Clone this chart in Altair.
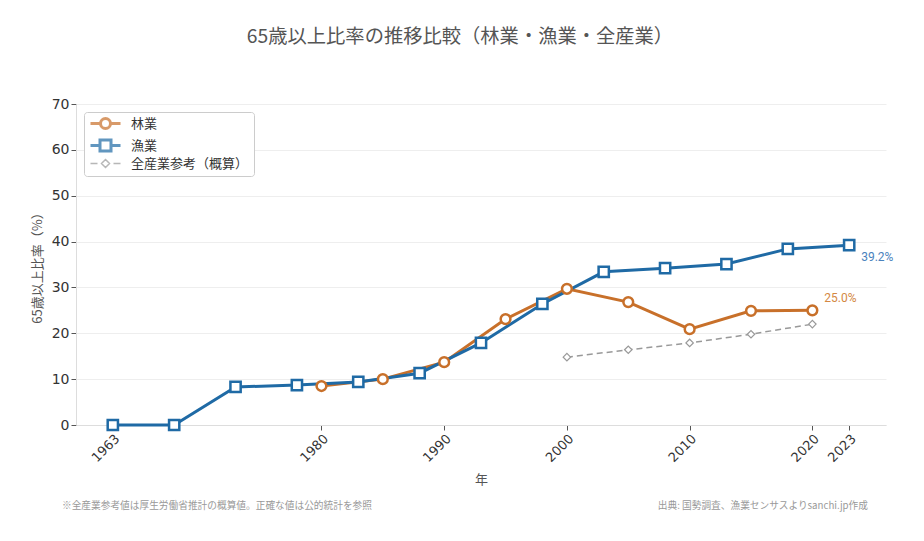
import altair as alt
import pandas as pd

# ---- data ----
series_names = ["林業", "漁業", "全産業参考（概算）"]
series_colors = ["#c8702a", "#1f6aa5", "#999999"]

forest_years = [1980, 1985, 1990, 1995, 2000, 2005, 2010, 2015, 2020]
forest_vals = [8.5, 10.0, 13.7, 23.1, 29.7, 26.8, 20.9, 24.9, 25.0]

fish_years = [1963, 1968, 1973, 1978, 1983, 1988, 1993, 1998, 2003, 2008, 2013, 2018, 2023]
fish_vals = [0.0, 0.0, 8.3, 8.7, 9.4, 11.3, 17.9, 26.4, 33.4, 34.2, 35.1, 38.4, 39.2]

all_years = [2000, 2005, 2010, 2015, 2020]
all_vals = [14.8, 16.4, 17.9, 19.8, 22.0]

x_ticks = [1963, 1980, 1990, 2000, 2010, 2020, 2023]

rows = []
for y, v in zip(forest_years, forest_vals):
    rows.append({"year": y, "value": v, "series": series_names[0]})
for y, v in zip(fish_years, fish_vals):
    rows.append({"year": y, "value": v, "series": series_names[1]})
for y, v in zip(all_years, all_vals):
    rows.append({"year": y, "value": v, "series": series_names[2]})
df = pd.DataFrame(rows)

labels_df = pd.DataFrame([
    {"year": fish_years[-1], "value": fish_vals[-1], "series": series_names[1], "label": f"{fish_vals[-1]:.1f}%"},
    {"year": forest_years[-1], "value": forest_vals[-1], "series": series_names[0], "label": f"{forest_vals[-1]:.1f}%"},
])

FONT = "Noto Sans CJK JP"
TICKFONT = "DejaVu Sans"

x_enc = alt.X("year:Q", scale=alt.Scale(domain=[1960, 2026], nice=False, zero=False),
              axis=alt.Axis(values=x_ticks, format="d", labelAngle=-45, labelAlign="right",
                            labelBaseline="top", title="年", grid=False, titleFontSize=13,
                            titleColor="#555", titleFontWeight="normal", titlePadding=9,
                            labelFontSize=13, labelColor="#333", labelFont=TICKFONT))
y_enc = alt.Y("value:Q", scale=alt.Scale(domain=[0, 70], nice=False),
              axis=alt.Axis(values=[0, 10, 20, 30, 40, 50, 60, 70], title="65歳以上比率（%）",
                            titleFontSize=13, titleColor="#555", titleFontWeight="normal",
                            labelFontSize=14, labelColor="#333", labelFont=TICKFONT,
                            titlePadding=7))

color_scale = alt.Scale(domain=series_names, range=series_colors)
width_scale = alt.Scale(type="ordinal", domain=series_names, range=[3, 3, 1.5])


def sub(i):
    return alt.Chart(df).transform_filter(alt.datum.series == series_names[i])


line_forest = sub(0).mark_line(color=series_colors[0], strokeWidth=3).encode(
    x=x_enc, y=y_enc, order="year:Q")
line_fish = sub(1).mark_line(color=series_colors[1], strokeWidth=3).encode(
    x="year:Q", y="value:Q", order="year:Q")
line_all = sub(2).mark_line(color=series_colors[2], strokeWidth=1.5, strokeDash=[6, 4]).encode(
    x="year:Q", y="value:Q", order="year:Q")

pts_forest = sub(0).mark_point(
    shape="circle", filled=True, fill="white", stroke=series_colors[0], strokeWidth=2.5,
    size=95, opacity=1).encode(x="year:Q", y="value:Q")
pts_fish = sub(1).mark_point(
    shape="square", filled=True, fill="white", stroke=series_colors[1], strokeWidth=2.5,
    size=105, opacity=1).encode(x="year:Q", y="value:Q")
pts_all = sub(2).mark_point(
    shape="diamond", filled=True, fill="white", stroke=series_colors[2], strokeWidth=1.2,
    size=55, opacity=1).encode(x="year:Q", y="value:Q")

# legend-only layer (no rows drawn) with line+marker symbols
legend_paths = [
    "M-1,0H1 M3,0H5 M3,0A1,1,0,1,1,1,0A1,1,0,1,1,3,0Z",
    "M-1,0H0.9 M3.1,0H5 M0.9,-1.1H3.1V1.1H0.9Z",
    "M-1,0H0.4 M3.6,0H5 M2,-0.8L2.8,0L2,0.8L1.2,0Z",
]
legend_layer = alt.Chart(df).transform_filter(alt.datum.year < 0).mark_point(filled=False).encode(
    x="year:Q", y="value:Q",
    color=alt.Color("series:N", scale=color_scale, sort=series_names,
                    legend=alt.Legend(title=None, orient="top-left", offset=8,
                                      symbolSize=100, labelOffset=29, padding=5,
                                      rowPadding=-1, labelFontSize=13, labelColor="#333",
                                      labelFont=FONT, strokeColor="#cccccc",
                                      fillColor="white", cornerRadius=3)),
    shape=alt.Shape("series:N", sort=series_names,
                    scale=alt.Scale(domain=series_names, range=legend_paths)),
    strokeWidth=alt.StrokeWidth("series:N", sort=series_names, scale=width_scale),
)

lbl_fish = alt.Chart(labels_df).transform_filter(alt.datum.series == series_names[1]).mark_text(
    align="left", baseline="middle", fontSize=12, font="Roboto", color="#4a82bd", dx=12, dy=12
).encode(x="year:Q", y="value:Q", text="label:N")
lbl_forest = alt.Chart(labels_df).transform_filter(alt.datum.series == series_names[0]).mark_text(
    align="left", baseline="middle", fontSize=12, font="Roboto", color="#d48843", dx=12, dy=-12
).encode(x="year:Q", y="value:Q", text="label:N")

notes_df = pd.DataFrame({
    "note": ["※全産業参考値は厚生労働省推計の概算値。正確な値は公的統計を参照"],
    "src": ["出典: 国勢調査、漁業センサスよりsanchi.jp作成"],
})
note_left = alt.Chart(notes_df).mark_text(align="left", baseline="middle", fontSize=9.7,
                                          color="#999", font=FONT).encode(
    x=alt.value(-14), y=alt.value(402), text="note:N")
note_right = alt.Chart(notes_df).mark_text(align="right", baseline="middle", fontSize=9.7,
                                           color="#999", font=FONT).encode(
    x=alt.value(792), y=alt.value(402), text="src:N")

chart = alt.layer(line_forest, line_fish, line_all, pts_forest, pts_fish, pts_all,
                  legend_layer, lbl_fish, lbl_forest, note_left, note_right).properties(
    width=810, height=321,
    autosize=alt.AutoSizeParams(type="none"),
    padding={"left": 68, "top": 96, "right": 30, "bottom": 108},
    title=alt.TitleParams("65歳以上比率の推移比較（林業・漁業・全産業）", fontSize=19.3,
                          font=FONT, fontWeight="normal", color="#555",
                          anchor="middle", frame="group", dx=-21, offset=50),
).configure(font=FONT).configure_view(strokeWidth=0, stroke="transparent").configure_axis(
    domainColor="#dddddd", tickColor="#555", gridColor="#eeeeee",
    titleFont=FONT, tickSize=5,
)

chart.save("out.html", embed_options={"renderer": "svg", "actions": False})
